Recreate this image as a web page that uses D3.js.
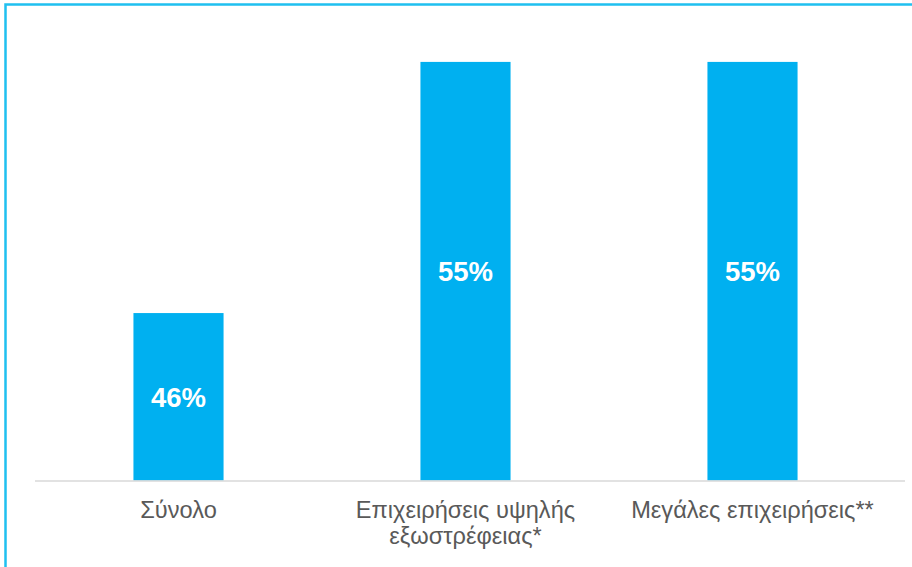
<!DOCTYPE html>
<html>
<head>
<meta charset="utf-8">
<script src="https://cdn.jsdelivr.net/npm/d3@7"></script>
<style>
  body { margin: 0; background: #fff; }
  svg { display: block; font-family: "Liberation Sans", Arial, sans-serif; }
</style>
</head>
<body>
<div id="chart"></div>
<script>
const categories = [["Σύνολο"], ["Επιχειρήσεις υψηλής", "εξωστρέφειας*"], ["Μεγάλες επιχειρήσεις**"]];
const values = [46, 55, 55];
const valueLabels = ["46%", "55%", "55%"];

const width = 912, height = 567;
const svg = d3.select("#chart").append("svg")
  .attr("width", width)
  .attr("height", height);

// frame (only left and top edges are visible in the picture)
svg.append("rect")
  .attr("x", 5.5).attr("y", 4.5)
  .attr("width", 920).attr("height", 580)
  .attr("fill", "none")
  .attr("stroke", "#1fc0f0")
  .attr("stroke-width", 2.5);

const x = d3.scaleBand()
  .domain(d3.range(values.length))
  .range([35, 896])
  .paddingInner(0.686)
  .paddingOuter(0.343);

// axis does not start at zero
const y = d3.scaleLinear()
  .domain([40, 56])
  .range([480.5, 34]);

const bars = svg.append("g");
bars.selectAll("rect")
  .data(values)
  .join("rect")
  .attr("x", (d, i) => x(i))
  .attr("width", x.bandwidth())
  .attr("y", d => y(d))
  .attr("height", d => y(40) - y(d))
  .attr("fill", "#00b0f0");

bars.selectAll("text")
  .data(values)
  .join("text")
  .attr("x", (d, i) => x(i) + x.bandwidth() / 2)
  .attr("y", d => (y(d) + y(40)) / 2 + 10)
  .attr("text-anchor", "middle")
  .attr("fill", "#fff")
  .attr("font-weight", "bold")
  .attr("font-size", 27.5)
  .text((d, i) => valueLabels[i]);

// baseline
svg.append("line")
  .attr("x1", 35).attr("x2", 905)
  .attr("y1", y(40) + 0.5).attr("y2", y(40) + 0.5)
  .attr("stroke", "#d9d9d9")
  .attr("stroke-width", 1.5);

const labels = svg.append("g");
categories.forEach((lines, i) => {
  const t = labels.append("text")
    .attr("x", x(i) + x.bandwidth() / 2)
    .attr("y", 518)
    .attr("text-anchor", "middle")
    .attr("fill", "#595959")
    .attr("font-size", 23.6);
  lines.forEach((ln, j) => {
    t.append("tspan")
      .attr("x", x(i) + x.bandwidth() / 2)
      .attr("dy", j === 0 ? 0 : 26)
      .text(ln);
  });
});
</script>
</body>
</html>
